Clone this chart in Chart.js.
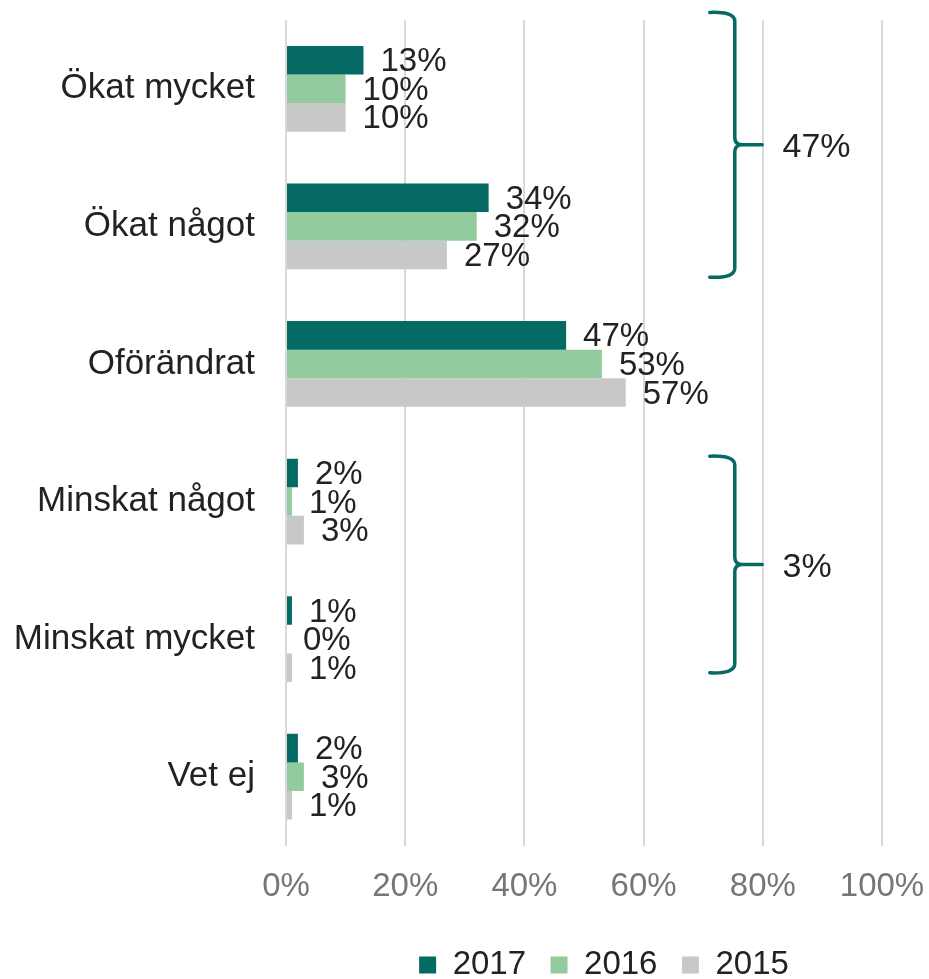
<!DOCTYPE html>
<html>
<head>
<meta charset="utf-8">
<script src="https://cdn.jsdelivr.net/npm/chart.js@4/dist/chart.umd.min.js"></script>
<style>
  html, body { margin: 0; padding: 0; background: #ffffff; }
  #wrap { width: 929px; height: 979px; position: relative; }
</style>
</head>
<body>
<div id="wrap"><canvas id="c" width="929" height="979"></canvas></div>
<script>
// ---- data ----
const categories = ['Ökat mycket', 'Ökat något', 'Oförändrat', 'Minskat något', 'Minskat mycket', 'Vet ej'];
const seriesNames = ['2017', '2016', '2015'];
const values2017 = [13, 34, 47, 2, 1, 2];
const values2016 = [10, 32, 53, 1, 0, 3];
const values2015 = [10, 27, 57, 3, 1, 1];
const xTickValues = [0, 20, 40, 60, 80, 100];
const bracketFrom = [0, 3];
const bracketTo = [1, 4];
const bracketLabels = ['47%', '3%'];

// ---- styles ----
const colors = ['#066a64', '#93cb9f', '#c8c8c8'];
const FONT = "'Liberation Sans', Arial, sans-serif";
const textColor = '#222222';

const dataLabelPlugin = {
  id: 'dataLabels',
  afterDatasetsDraw(chart) {
    const ctx = chart.ctx;
    ctx.save();
    ctx.font = '33px ' + FONT;
    ctx.fillStyle = textColor;
    ctx.textAlign = 'left';
    ctx.textBaseline = 'middle';
    chart.data.datasets.forEach((ds, di) => {
      const meta = chart.getDatasetMeta(di);
      meta.data.forEach((el, i) => {
        ctx.fillText(ds.data[i] + '%', el.x + 17, el.y + 2);
      });
    });
    ctx.restore();
  }
};

// bracket geometry offsets (fractions of a category band)
const bracketTopFrac = [0.555, 0.33];
const bracketBottomFrac = [0.37, 0.245];

const bracketPlugin = {
  id: 'brackets',
  afterDraw(chart) {
    const ctx = chart.ctx;
    const xs = chart.scales.x, ys = chart.scales.y;
    const band = ys.getPixelForValue(1) - ys.getPixelForValue(0);
    const x0 = xs.getPixelForValue(71.1);
    const xsp = xs.getPixelForValue(75.3);
    const xm = xs.getPixelForValue(79.9);
    const xl = xs.getPixelForValue(83.3);
    ctx.save();
    ctx.strokeStyle = '#066a64';
    ctx.lineWidth = 3.5;
    ctx.lineCap = 'round';
    ctx.lineJoin = 'round';
    bracketFrom.forEach((f, k) => {
      const top = ys.getPixelForValue(f) - bracketTopFrac[k] * band;
      const bottom = ys.getPixelForValue(bracketTo[k]) + bracketBottomFrac[k] * band;
      const mid = (top + bottom) / 2;
      ctx.beginPath();
      ctx.moveTo(x0, top);
      ctx.quadraticCurveTo(xsp, top - 1, xsp, top + 9);
      ctx.lineTo(xsp, mid - 7);
      ctx.quadraticCurveTo(xsp, mid, xsp + 8, mid);
      ctx.lineTo(xm, mid);
      ctx.moveTo(xsp + 8, mid);
      ctx.quadraticCurveTo(xsp, mid, xsp, mid + 7);
      ctx.lineTo(xsp, bottom - 9);
      ctx.quadraticCurveTo(xsp, bottom + 1, x0, bottom);
      ctx.stroke();
      ctx.fillStyle = textColor;
      ctx.font = '34px ' + FONT;
      ctx.textAlign = 'left';
      ctx.textBaseline = 'middle';
      ctx.fillText(bracketLabels[k], xl, mid + 3);
    });
    ctx.restore();
  }
};

const legendShiftPlugin = {
  id: 'legendShift',
  afterLayout(chart) {
    const lg = chart.legend;
    if (!lg) return;
    lg.left += 20; lg.right += 20;
    lg.top += 12.5; lg.bottom += 12.5;
  }
};

new Chart(document.getElementById('c'), {
  type: 'bar',
  data: {
    labels: categories,
    datasets: [
      { label: seriesNames[0], data: values2017, backgroundColor: colors[0] },
      { label: seriesNames[1], data: values2016, backgroundColor: colors[1] },
      { label: seriesNames[2], data: values2015, backgroundColor: colors[2] }
    ]
  },
  options: {
    indexAxis: 'y',
    responsive: false,
    animation: false,
    devicePixelRatio: 1,
    layout: { padding: { top: 20, right: 47, bottom: 0, left: 0 } },
    datasets: { bar: { categoryPercentage: 0.623, barPercentage: 1.0, borderWidth: 0 } },
    scales: {
      x: {
        min: 0, max: 100,
        afterBuildTicks(scale) { scale.ticks = xTickValues.map(v => ({ value: v })); },
        afterFit(scale) {
          scale.height = 66;
          scale.paddingLeft = 0; scale.paddingRight = 0;
        },
        grid: { color: '#d9d9d9', lineWidth: 2, drawTicks: false },
        border: { display: false },
        ticks: {
          padding: 22,
          color: '#767676',
          font: { family: FONT, size: 33 },
          callback: v => v + '%',
          maxRotation: 0
        }
      },
      y: {
        afterFit(scale) {
          scale.width = 286;
          scale.paddingTop = 0; scale.paddingBottom = 0;
        },
        grid: { display: false, drawTicks: false },
        border: { display: false },
        ticks: {
          padding: 31,
          color: textColor,
          font: { family: FONT, size: 35 }
        }
      }
    },
    plugins: {
      legend: {
        position: 'bottom',
        fullSize: false,
        labels: {
          boxWidth: 17,
          boxHeight: 17,
          padding: 24.5,
          color: textColor,
          font: { family: FONT, size: 33 }
        }
      },
      tooltip: { enabled: false }
    }
  },
  plugins: [dataLabelPlugin, bracketPlugin, legendShiftPlugin]
});
</script>
</body>
</html>
